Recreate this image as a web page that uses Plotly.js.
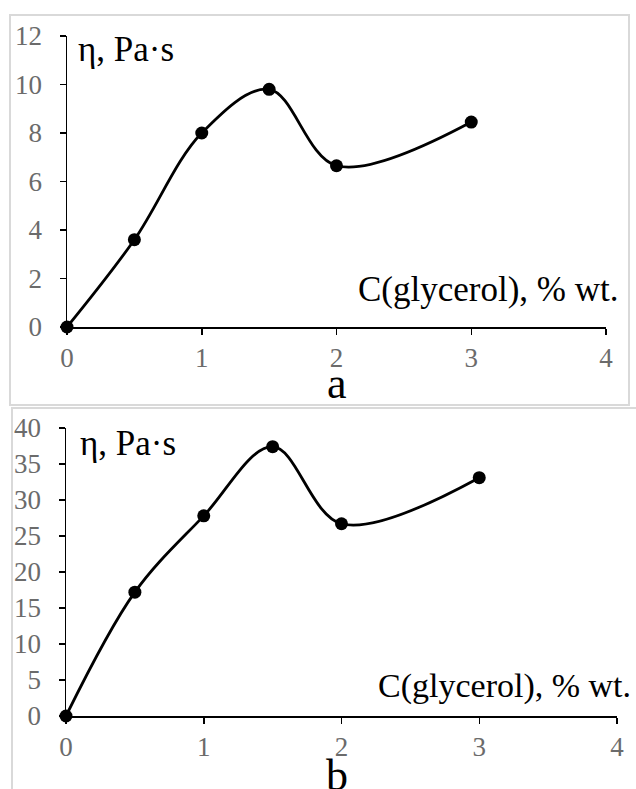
<!DOCTYPE html>
<html>
<head>
<meta charset="utf-8">
<script src="https://cdn.plot.ly/plotly-3.0.1.min.js"></script>
<style>html,body{margin:0;padding:0;background:#fff;}#chart{width:636px;height:789px;}</style>
</head>
<body>
<div id="chart"></div>
<script>
const glycerol = [0, 0.5, 1, 1.5, 2, 3];
const etaA = [0, 3.6, 8.0, 9.8, 6.65, 8.45];
const etaB = [0, 17.2, 27.8, 37.4, 26.7, 33.1];
const xTicks = [0, 1, 2, 3, 4];
const yTicksA = [0, 2, 4, 6, 8, 10, 12];
const yTicksB = [0, 5, 10, 15, 20, 25, 30, 35, 40];
const yLabel = "η, Pa·s";
const xLabel = "C(glycerol), % wt.";
const panelLabels = ["a", "b"];

const W = 636, H = 789;
const px = v => v / W;
const py = v => 1 - v / H;
const serif = "Liberation Serif";

const lineStyle = {shape: "spline", smoothing: 1, color: "#000", width: 2.8};
const markerStyle = {size: 13, color: "#000"};

const traces = [
  {x: glycerol, y: etaA, xaxis: "x", yaxis: "y", mode: "lines+markers",
   line: lineStyle, marker: markerStyle, cliponaxis: false, hoverinfo: "none"},
  {x: glycerol, y: etaB, xaxis: "x2", yaxis: "y2", mode: "lines+markers",
   line: lineStyle, marker: markerStyle, cliponaxis: false, hoverinfo: "none"}
];

const axisCommon = {
  showline: true, linecolor: "#000", linewidth: 1.5,
  ticks: "outside", ticklen: 6, tickwidth: 1.5, tickcolor: "#000",
  showgrid: false, zeroline: false,
  tickfont: {family: serif, size: 27, color: "#6b6b6b"},
  fixedrange: true
};

const layout = {
  width: W, height: H,
  margin: {l: 0, r: 0, t: 0, b: 0},
  font: {family: serif},
  paper_bgcolor: "#fff", plot_bgcolor: "rgba(0,0,0,0)",
  showlegend: false,
  xaxis: Object.assign({}, axisCommon, {domain: [px(67), px(606)], range: [0, 4], tickvals: xTicks, anchor: "y", ticklabelstandoff: 0}),
  yaxis: Object.assign({}, axisCommon, {domain: [py(327), py(36)], range: [0, 12], tickvals: yTicksA, anchor: "x", ticklabelstandoff: 12}),
  xaxis2: Object.assign({}, axisCommon, {domain: [px(66), px(617)], range: [0, 4], tickvals: xTicks, anchor: "y2", ticklabelstandoff: 0}),
  yaxis2: Object.assign({}, axisCommon, {domain: [py(716), py(428)], range: [0, 40], tickvals: yTicksB, anchor: "x2", ticklabelstandoff: 12}),
  shapes: [
    {type: "rect", xref: "paper", yref: "paper", x0: px(10), x1: px(629), y0: py(405), y1: py(15),
     line: {color: "#d9d9d9", width: 2}, layer: "below"},
    {type: "rect", xref: "paper", yref: "paper", x0: px(12), x1: px(650), y0: py(800), y1: py(408),
     line: {color: "#d9d9d9", width: 2}, layer: "below"}
  ],
  annotations: [
    {xref: "paper", yref: "paper", x: px(76), y: py(50), xanchor: "left", yanchor: "middle",
     text: yLabel, showarrow: false, font: {family: serif, size: 35, color: "#000"}},
    {xref: "paper", yref: "paper", x: px(620), y: py(289), xanchor: "right", yanchor: "middle",
     text: xLabel, showarrow: false, font: {family: serif, size: 35, color: "#000"}},
    {xref: "paper", yref: "paper", x: px(337), y: py(383), xanchor: "center", yanchor: "middle",
     text: panelLabels[0], showarrow: false, font: {family: serif, size: 44, color: "#000"}},
    {xref: "paper", yref: "paper", x: px(78), y: py(443), xanchor: "left", yanchor: "middle",
     text: yLabel, showarrow: false, font: {family: serif, size: 35, color: "#000"}},
    {xref: "paper", yref: "paper", x: px(376), y: py(686), xanchor: "left", yanchor: "middle",
     text: xLabel, showarrow: false, font: {family: serif, size: 34, color: "#000"}},
    {xref: "paper", yref: "paper", x: px(337), y: py(775), xanchor: "center", yanchor: "middle",
     text: panelLabels[1], showarrow: false, font: {family: serif, size: 44, color: "#000"}}
  ]
};

Plotly.newPlot("chart", traces, layout, {displayModeBar: false, staticPlot: true});
</script>
</body>
</html>
